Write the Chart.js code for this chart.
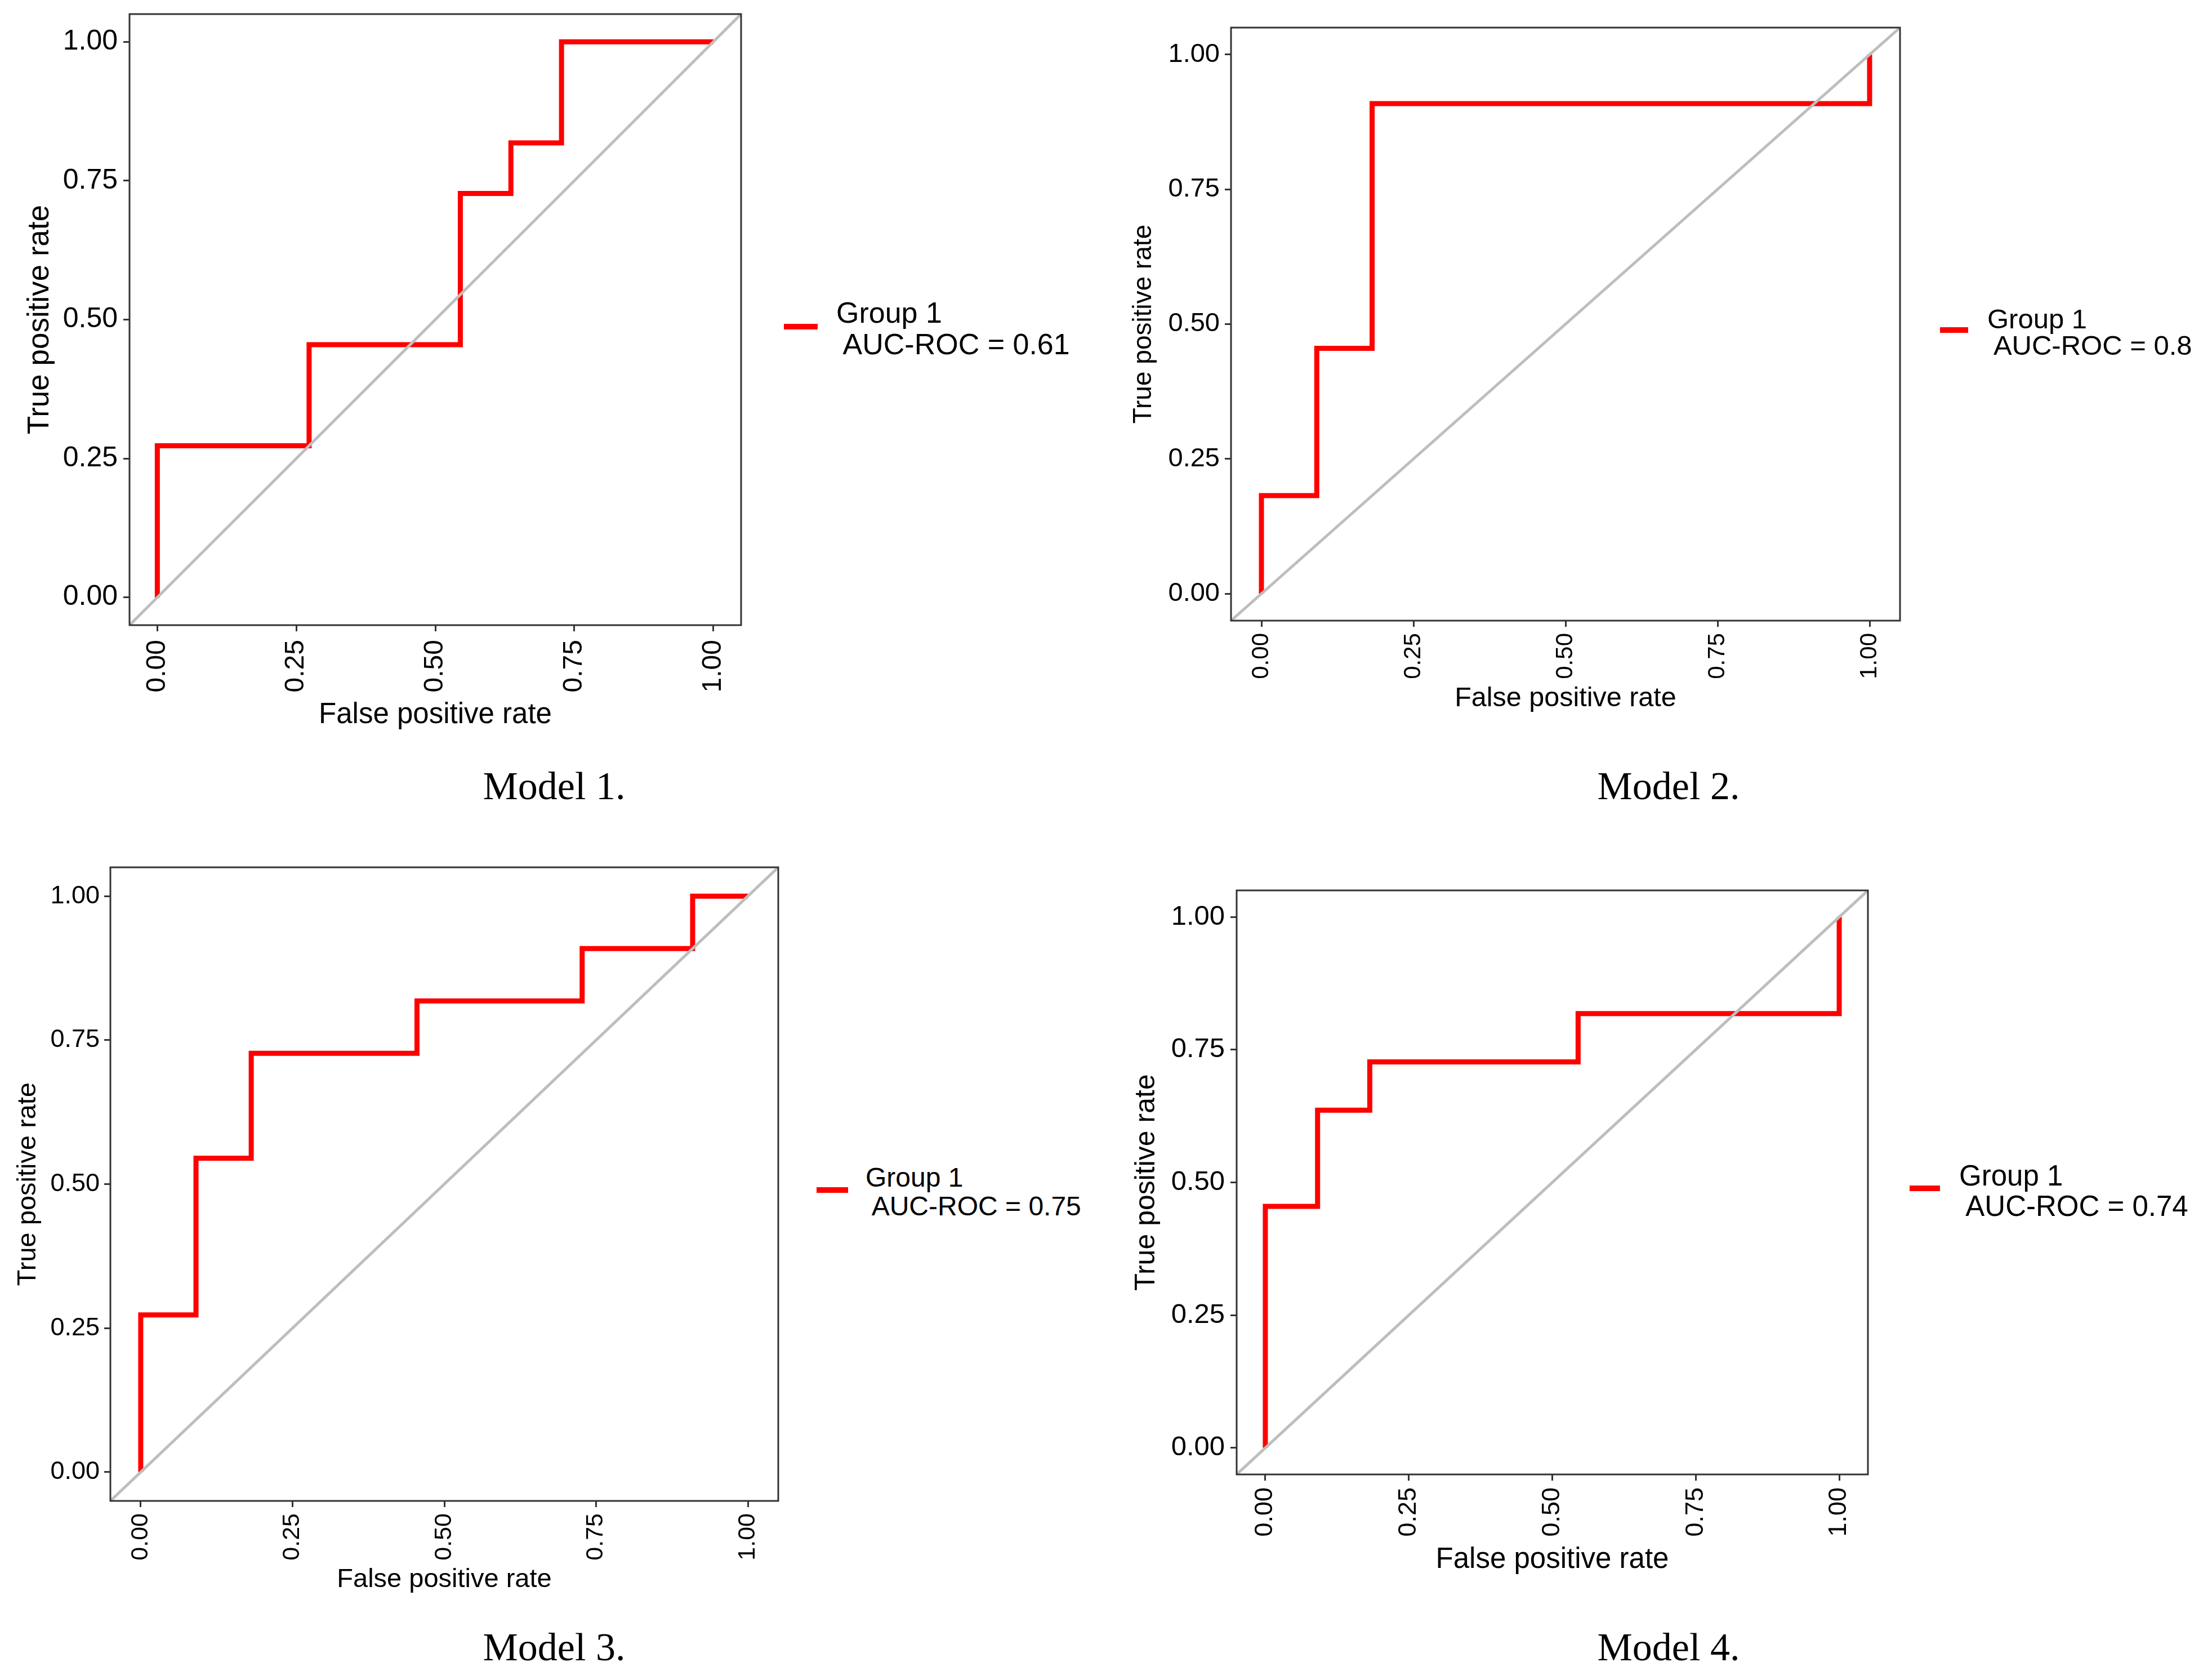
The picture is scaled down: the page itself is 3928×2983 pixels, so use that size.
<!DOCTYPE html>
<html>
<head>
<meta charset="utf-8">
<title>ROC curves - Models 1-4</title>
<script src="https://cdn.jsdelivr.net/npm/chart.js@4.4.0/dist/chart.umd.min.js"></script>
<style>
  html, body { margin: 0; padding: 0; background: #fff; }
  body { width: 3928px; height: 2983px; position: relative; overflow: hidden; }
  canvas { position: absolute; }
  .txt { position: absolute; line-height: 1; white-space: pre; color: #000; }
  .key { position: absolute; background: #ff0000; }
</style>
</head>
<body>
<script>
// ---- data ----
const tickValues = [0, 0.25, 0.5, 0.75, 1];
const tickLabels = ['0.00', '0.25', '0.50', '0.75', '1.00'];
const axisLimits = [-0.05, 1.05];
const chanceFpr = [-0.05, 1.05];
const chanceTpr = [-0.05, 1.05];

const model1Fpr = [0, 0, 0.273, 0.273, 0.545, 0.545, 0.636, 0.636, 0.727, 0.727, 1];
const model1Tpr = [0, 0.273, 0.273, 0.455, 0.455, 0.727, 0.727, 0.818, 0.818, 1, 1];
const model2Fpr = [0, 0, 0.091, 0.091, 0.182, 0.182, 1, 1];
const model2Tpr = [0, 0.182, 0.182, 0.455, 0.455, 0.909, 0.909, 1];
const model3Fpr = [0, 0, 0.091, 0.091, 0.182, 0.182, 0.455, 0.455, 0.727, 0.727, 0.909, 0.909, 1];
const model3Tpr = [0, 0.273, 0.273, 0.545, 0.545, 0.727, 0.727, 0.818, 0.818, 0.909, 0.909, 1, 1];
const model4Fpr = [0, 0, 0.091, 0.091, 0.182, 0.182, 0.545, 0.545, 1, 1];
const model4Tpr = [0, 0.455, 0.455, 0.636, 0.636, 0.727, 0.727, 0.818, 0.818, 1];

const modelNames = ['Model 1.', 'Model 2.', 'Model 3.', 'Model 4.'];
const groupLabel = 'Group 1';
const aucValues = ['0.61', '0.8', '0.75', '0.74'];
const xTitle = 'False positive rate';
const yTitle = 'True positive rate';

// ---- layout (page pixels) ----
const SANS = "'Liberation Sans', Arial, sans-serif";
const SERIF = "'Liberation Serif', 'Times New Roman', serif";
const EDGE = 40; // canvas margin above / right of the panel box

const panels = [
  { fpr: model1Fpr, tpr: model1Tpr, area: [230, 25, 1316, 1110], left: 0,
    yTick: { size: 50, pad: 10 }, xTick: { size: 48, pad: 15 },
    yTitle: { size: 53, mid: 71 }, xTitle: { size: 51, mid: 1270 },
    key: [1392, 1452, 580], legend: { x: 1485, y1: 554, y2: 610, size: 52 }, caption: [984, 1396] },
  { fpr: model2Fpr, tpr: model2Tpr, area: [2186, 49, 3374, 1102], left: 1960,
    yTick: { size: 47, pad: 9 }, xTick: { size: 42, pad: 11 },
    yTitle: { size: 46, mid: 2031 }, xTitle: { size: 48.5, mid: 1241 },
    key: [3445, 3495, 586], legend: { x: 3529, y1: 566, y2: 613, size: 49 }, caption: [2963, 1396] },
  { fpr: model3Fpr, tpr: model3Tpr, area: [196, 1540, 1382, 2665], left: 0,
    yTick: { size: 45, pad: 8 }, xTick: { size: 43, pad: 11 },
    yTitle: { size: 47, mid: 50 }, xTitle: { size: 47, mid: 2805 },
    key: [1450, 1506, 2113], legend: { x: 1537, y1: 2091, y2: 2142, size: 48 }, caption: [984, 2925] },
  { fpr: model4Fpr, tpr: model4Tpr, area: [2196, 1581, 3317, 2618], left: 1960,
    yTick: { size: 49, pad: 10 }, xTick: { size: 45, pad: 12 },
    yTitle: { size: 50, mid: 2036 }, xTitle: { size: 51, mid: 2770 },
    key: [3391, 3445, 2110], legend: { x: 3479, y1: 2087, y2: 2141, size: 51 }, caption: [2963, 2925] }
];

Chart.defaults.font.family = SANS;
Chart.defaults.color = '#000';

// panel border (theme_bw style box)
const panelBorder = {
  id: 'panelBorder',
  afterDatasetsDraw(chart) {
    const { ctx, chartArea: a } = chart;
    ctx.save();
    ctx.strokeStyle = '#333333';
    ctx.lineWidth = 3;
    ctx.strokeRect(a.left, a.top, a.right - a.left, a.bottom - a.top);
    ctx.restore();
  }
};

// text helper: y is the vertical centre of capitals
function addText(text, x, y, size, family, center) {
  const d = document.createElement('div');
  d.className = 'txt';
  d.textContent = text;
  d.style.fontFamily = family;
  d.style.fontSize = size + 'px';
  d.style.left = x + 'px';
  d.style.top = (y - (family === SERIF ? 0.5065 : 0.49) * size) + 'px';
  if (center) d.style.transform = 'translateX(-50%)';
  document.body.appendChild(d);
}

function toPoints(xs, ys) {
  return xs.map((x, i) => ({ x: x, y: ys[i] }));
}

function buildPanel(p, i) {
  const [L, T, R, B] = p.area;
  const cLeft = p.left, cTop = T - EDGE, cRight = R + EDGE, cBottom = p.xTitle.mid + 50;
  const w = cRight - cLeft, h = cBottom - cTop;
  const canvas = document.createElement('canvas');
  canvas.width = w; canvas.height = h;
  canvas.style.left = cLeft + 'px'; canvas.style.top = cTop + 'px';
  canvas.style.width = w + 'px'; canvas.style.height = h + 'px';
  document.body.appendChild(canvas);

  const tickFmt = v => tickLabels[tickValues.indexOf(v)];
  const setTicks = s => { s.ticks = tickValues.map(v => ({ value: v })); };
  const grid = { drawOnChartArea: false, drawTicks: true, tickLength: 11, lineWidth: 3, color: '#333333' };

  new Chart(canvas, {
    type: 'scatter',
    data: {
      datasets: [
        { label: 'chance', data: toPoints(chanceFpr, chanceTpr), showLine: true,
          borderColor: '#bebebe', borderWidth: 5, pointRadius: 0, order: 0 },
        { label: groupLabel, data: toPoints(p.fpr, p.tpr), showLine: true,
          borderColor: '#ff0000', borderWidth: 9, pointRadius: 0, order: 1 }
      ]
    },
    options: {
      responsive: false,
      animation: false,
      devicePixelRatio: 1,
      layout: { padding: { left: 0, top: EDGE, right: EDGE, bottom: 0 } },
      plugins: { legend: { display: false }, tooltip: { enabled: false } },
      scales: {
        x: {
          type: 'linear', min: axisLimits[0], max: axisLimits[1],
          afterBuildTicks: setTicks,
          afterFit: s => { s.height = cBottom - B; },
          ticks: { autoSkip: false, minRotation: 90, maxRotation: 90, padding: p.xTick.pad,
                   font: { size: p.xTick.size }, callback: tickFmt },
          grid: grid,
          border: { display: false },
          title: { display: true, text: xTitle, font: { size: p.xTitle.size },
                   padding: { top: 0, bottom: (cBottom - p.xTitle.mid) - 0.6 * p.xTitle.size } }
        },
        y: {
          type: 'linear', min: axisLimits[0], max: axisLimits[1],
          afterBuildTicks: setTicks,
          afterFit: s => { s.width = L - cLeft; },
          ticks: { autoSkip: false, padding: p.yTick.pad,
                   font: { size: p.yTick.size }, callback: tickFmt },
          grid: grid,
          border: { display: false },
          title: { display: true, text: yTitle, font: { size: p.yTitle.size },
                   padding: { top: (p.yTitle.mid - cLeft) - 0.6 * p.yTitle.size, bottom: 0 } }
        }
      }
    },
    plugins: [panelBorder]
  });

  // legend
  const key = document.createElement('div');
  key.className = 'key';
  key.style.left = p.key[0] + 'px';
  key.style.width = (p.key[1] - p.key[0]) + 'px';
  key.style.top = (p.key[2] - 5) + 'px';
  key.style.height = '10px';
  document.body.appendChild(key);
  addText(groupLabel, p.legend.x, p.legend.y1, p.legend.size, SANS, false);
  addText(' AUC-ROC = ' + aucValues[i], p.legend.x, p.legend.y2, p.legend.size, SANS, false);

  // caption
  addText(modelNames[i], p.caption[0], p.caption[1], 70, SERIF, true);
}

panels.forEach(buildPanel);
</script>
</body>
</html>
